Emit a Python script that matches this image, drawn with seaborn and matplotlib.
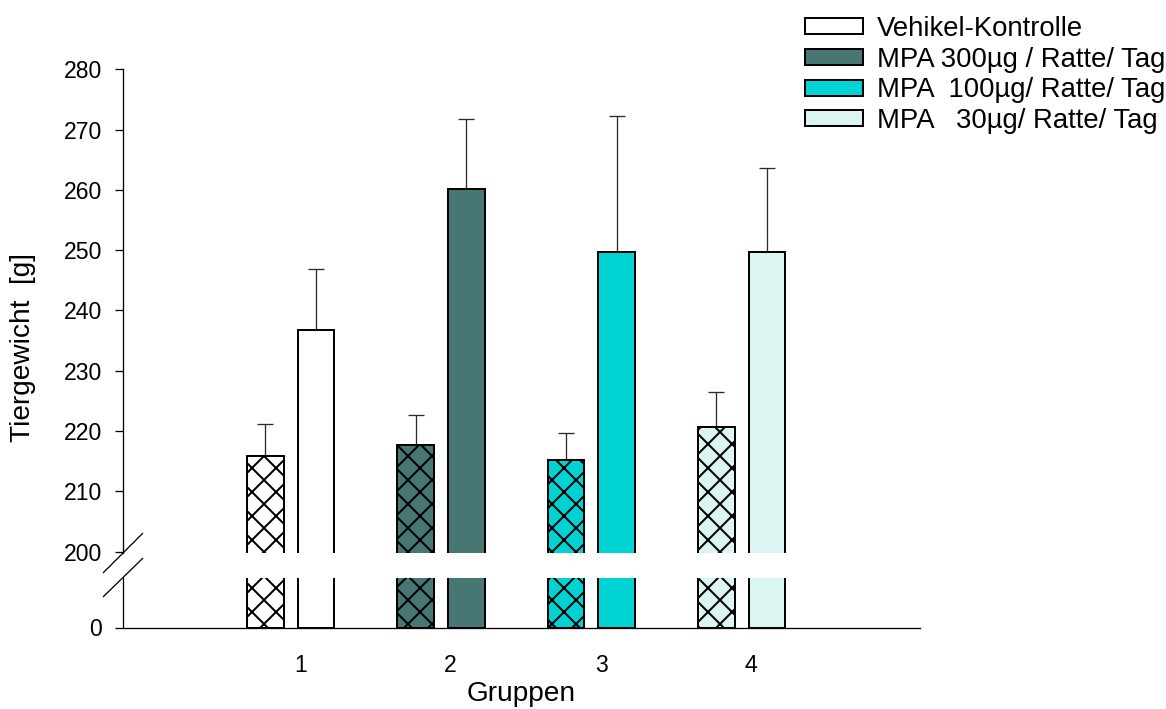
import numpy as np
import pandas as pd
import matplotlib
matplotlib.use("Agg")
import matplotlib.pyplot as plt
import seaborn as sns
from matplotlib.patches import Patch
from matplotlib.lines import Line2D

# ---- data -------------------------------------------------------------
groups = [1, 2, 3, 4]
group_labels = ["1", "2", "3", "4"]
doses = [
    "Vehikel-Kontrolle",
    "MPA 300µg / Ratte/ Tag",
    "MPA  100µg/ Ratte/ Tag",
    "MPA   30µg/ Ratte/ Tag",
]
start_mean = [215.9, 217.7, 215.2, 220.7]   # hatched bars
start_sd = [5.2, 5.0, 4.5, 5.8]
end_mean = [236.8, 260.2, 249.7, 249.7]     # solid bars
end_sd = [10.1, 11.6, 22.5, 13.9]
dose_colors = ["#FFFFFF", "#477674", "#00D3D3", "#DBF5F2"]
upper_ticks = [200, 210, 220, 230, 240, 250, 260, 270, 280]

# ---- style ------------------------------------------------------------
sns.set_style("ticks")
plt.rcParams["font.family"] = ["Liberation Sans", "DejaVu Sans"]
plt.rcParams.update({
    "hatch.linewidth": 2.0,
    "axes.linewidth": 1.3,
    "axes.edgecolor": "black",
    "text.color": "black",
    "axes.labelcolor": "black",
    "xtick.color": "black",
    "ytick.color": "black",
})

W, H = 1166, 709
fig = plt.figure(figsize=(W / 72, H / 72), dpi=72)


def px_rect(left, top, right, bottom):
    return [left / W, 1 - bottom / H, (right - left) / W, (bottom - top) / H]


ax_top = fig.add_axes(px_rect(123.3, 69.3, 920, 552.7))
ax_bot = fig.add_axes(px_rect(123.3, 577.7, 920, 627.5))

palette = dict(zip(doses, dose_colors))
off_start, off_end, bar_w = -0.233, 0.104, 0.245
df_start = pd.DataFrame({"pos": np.array(groups) + off_start, "val": start_mean, "dose": doses})
df_end = pd.DataFrame({"pos": np.array(groups) + off_end, "val": end_mean, "dose": doses})

for ax in (ax_top, ax_bot):
    sns.barplot(data=df_start, x="pos", y="val", hue="dose", palette=palette,
                native_scale=True, width=bar_w, dodge=False, errorbar=None,
                saturation=1, legend=False, edgecolor="black", linewidth=2,
                hatch="x", ax=ax, zorder=2)
    sns.barplot(data=df_end, x="pos", y="val", hue="dose", palette=palette,
                native_scale=True, width=bar_w, dodge=False, errorbar=None,
                saturation=1, legend=False, edgecolor="black", linewidth=2,
                ax=ax, zorder=2)
    ax.set_xlim(-0.178, 5.122)
    ax.set_xlabel("")
    ax.set_ylabel("")
    for s in ("top", "right"):
        ax.spines[s].set_visible(False)

# upward-only error bars
for df, sd in ((df_start, start_sd), (df_end, end_sd)):
    ax_top.errorbar(df["pos"], df["val"], yerr=[np.zeros(len(sd)), sd],
                    fmt="none", ecolor="#2a2a2a", elinewidth=1.3,
                    capsize=8, capthick=1.3, zorder=1)

# upper section
ax_top.set_ylim(199.83, 280)
ax_top.set_yticks(upper_ticks)
ax_top.spines["bottom"].set_visible(False)
ax_top.set_xticks([])
ax_top.tick_params(axis="y", length=8, width=1.3, pad=13, labelsize=23,
                   direction="out")

# lower section
ax_bot.set_ylim(0, 8.3)
ax_bot.set_yticks([0])
ax_bot.set_xticks(groups)
ax_bot.set_xticklabels(group_labels)
ax_bot.tick_params(axis="y", length=8, width=1.3, pad=13, labelsize=23,
                   direction="out")
ax_bot.tick_params(axis="x", length=0, pad=26, labelsize=23)

ax_bot.set_xlabel("Gruppen", fontsize=28, va="top")
ax_bot.xaxis.set_label_coords(0.5, -1.07)
ax_top.set_ylabel("Tiergewicht  [g]", fontsize=28, va="center", ha="center")
ax_top.yaxis.set_label_coords(-0.126, 0.4235)

# axis break marks
for (x0, y0, x1, y1) in ((103.3, 572.7, 142.7, 533.3), (103.3, 596.7, 142.7, 558.3)):
    fig.add_artist(Line2D([x0 / W, x1 / W], [1 - y0 / H, 1 - y1 / H],
                          color="black", lw=1.3, transform=fig.transFigure))

# legend
handles = [Patch(facecolor=c, edgecolor="black", linewidth=2) for c in dose_colors]
fs = 27.5
fig.legend(handles, doses, loc="upper left",
           bbox_to_anchor=(805 / W, 1 - 16 / H), frameon=False, fontsize=fs,
           handlelength=58 / fs, handleheight=14 / fs, handletextpad=14 / fs,
           labelspacing=0.17, borderpad=0, borderaxespad=0)

fig.savefig("out.png", dpi=72)
